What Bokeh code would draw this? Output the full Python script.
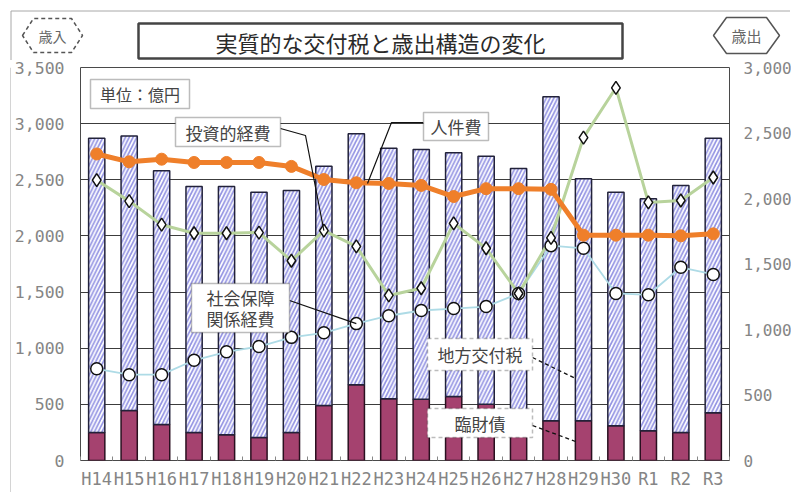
from bokeh.plotting import figure
from bokeh.layouts import column, row
from bokeh.models import (Range1d, LinearAxis, FixedTicker, BoxAnnotation, Label,
                          ColumnDataSource, NumeralTickFormatter)
from bokeh.core.properties import value
from bokeh.embed import file_html
from bokeh.resources import INLINE

# ---------------- data (億円) ----------------
years = ["H14", "H15", "H16", "H17", "H18", "H19", "H20", "H21", "H22", "H23",
         "H24", "H25", "H26", "H27", "H28", "H29", "H30", "R1", "R2", "R3"]
# 歳入 (left axis)
kofuzei = [2620, 2445, 2260, 2190, 2210, 2185, 2155, 2130, 2235, 2230,
           2225, 2170, 2210, 2170, 2885, 2155, 2080, 2065, 2200, 2445]   # 地方交付税
rinzai = [250, 445, 320, 250, 230, 205, 250, 490, 675, 550,
          545, 570, 500, 430, 355, 355, 310, 265, 250, 425]              # 臨財債
# 歳出 (right axis)
personnel = [2340, 2280, 2300, 2275, 2275, 2275, 2245, 2145, 2120, 2115,
             2100, 2015, 2075, 2075, 2070, 1720, 1720, 1720, 1715, 1730]  # 人件費
investment = [2140, 1980, 1800, 1735, 1735, 1740, 1525, 1755, 1635, 1260,
              1315, 1810, 1620, 1275, 1700, 2465, 2845, 1970, 1985, 2160]  # 投資的経費
social = [700, 655, 655, 765, 830, 870, 940, 975, 1045, 1105,
          1145, 1160, 1175, 1275, 1640, 1620, 1275, 1265, 1475, 1420]      # 社会保障関係経費
left_ticks = [0, 500, 1000, 1500, 2000, 2500, 3000, 3500]
right_ticks = [0, 500, 1000, 1500, 2000, 2500, 3000]

LEFT_MAX = 3500
RIGHT_MAX = 3000

n = len(years)
xs = list(range(n))
src = ColumnDataSource(dict(
    x=xs,
    rinzai=rinzai,
    total=[a + b for a, b in zip(rinzai, kofuzei)],
    personnel=personnel, investment=investment, social=social,
))

# ---------------- page layout (pixels) ----------------
TOTAL_W = 790
HEAD_H = 60          # header strip with title and badges
STRIP_W = 11         # thin strip carrying the outer frame's left edge
FR_L, FR_T, FR_W, FR_H = 78, 67, 649, 393   # plot frame on the page
MB_TOP = FR_T - HEAD_H
MB_LEFT = FR_L - STRIP_W
MB_RIGHT = TOTAL_W - FR_L - FR_W
MB_BOTTOM = 32
MAIN_H = MB_TOP + FR_H + MB_BOTTOM
X0, X1 = -0.5, n - 0.5


def dx(px):
    return X0 + (px - FR_L) * (X1 - X0) / FR_W


def dy(py):
    return (FR_T + FR_H - py) * LEFT_MAX / FR_H


def r2l(v):
    return v * LEFT_MAX / RIGHT_MAX


JP = "Noto Sans CJK JP"
MONO = "DejaVu Sans Mono"
TICK_GRAY = "#858585"
BORDER_GRAY = "#a8a8a8"

p = figure(frame_width=FR_W, frame_height=FR_H,
           min_border_left=MB_LEFT, min_border_right=MB_RIGHT,
           min_border_top=MB_TOP, min_border_bottom=MB_BOTTOM,
           x_range=Range1d(X0, X1), y_range=Range1d(0, LEFT_MAX),
           output_backend="svg", toolbar_location=None,
           background_fill_color="white", border_fill_color="white")
p.extra_y_ranges = {"right": Range1d(0, RIGHT_MAX)}

p.outline_line_color = "#4a4a4a"
p.outline_line_width = 1
p.xgrid.visible = False
p.ygrid.grid_line_color = "#3c3c3c"
p.ygrid.grid_line_width = 1

# x axis
xa = p.xaxis[0]
xa.ticker = FixedTicker(ticks=xs, minor_ticks=[i - 0.5 for i in range(n + 1)])
xa.major_label_overrides = {i: y for i, y in enumerate(years)}
xa.major_tick_in = 0
xa.major_tick_out = 0
xa.minor_tick_in = 4
xa.minor_tick_out = 0
xa.minor_tick_line_color = "#888888"
xa.axis_line_color = None
xa.major_label_standoff = 8
xa.major_label_text_font = MONO
xa.major_label_text_font_size = "17px"
xa.major_label_text_color = TICK_GRAY

# left axis
ya = p.yaxis[0]
ya.ticker = FixedTicker(ticks=left_ticks)
ya.formatter = NumeralTickFormatter(format="0,0")
ya.major_tick_in = 0
ya.major_tick_out = 0
ya.minor_tick_line_color = None
ya.axis_line_color = None
ya.major_label_standoff = 16
ya.major_label_text_font = MONO
ya.major_label_text_font_size = "16.5px"
ya.major_label_text_color = TICK_GRAY

# right axis
ra = LinearAxis(y_range_name="right", ticker=FixedTicker(ticks=right_ticks),
                formatter=NumeralTickFormatter(format="0,0"))
ra.major_tick_in = 0
ra.major_tick_out = 0
ra.minor_tick_line_color = None
ra.axis_line_color = None
ra.major_label_standoff = 14
ra.major_label_text_font = MONO
ra.major_label_text_font_size = "16px"
ra.major_label_text_color = TICK_GRAY
p.add_layout(ra, "right")

# ---------------- bars ----------------
p.vbar(x="x", width=0.5, bottom=0, top="rinzai", source=src,
       fill_color="#a5426f", line_color="#2a1020", line_width=1.5)
p.vbar(x="x", width=0.5, bottom="rinzai", top="total", source=src,
       fill_color="white", hatch_pattern="/", hatch_color="#9393e3",
       hatch_weight=1.7, hatch_scale=7.5, line_color="#22223a", line_width=1.5)

# ---------------- lines ----------------
p.line("x", "social", source=src, y_range_name="right", line_color="#aedbe6", line_width=1.8)
p.line("x", "investment", source=src, y_range_name="right", line_color="#b8d39c", line_width=3)
p.line("x", "personnel", source=src, y_range_name="right", line_color="#ef7f2a", line_width=5)

p.scatter("x", "social", source=src, y_range_name="right", marker="circle", size=12,
          fill_color="white", line_color="#111111", line_width=1.5)
p.scatter("x", "investment", source=src, y_range_name="right", marker="diamond", size=13,
          fill_color="white", line_color="#111111", line_width=1.5)
p.scatter("x", "personnel", source=src, y_range_name="right", marker="circle", size=12,
          fill_color="#ef7f2a", line_color="#ef7f2a", line_width=1)

# ---------------- leader lines ----------------
p.line([dx(278), dx(303), 7], [dy(128), dy(135), r2l(investment[7])],
       line_color="#111111", line_width=1.2)
p.line([dx(421), dx(389), dx(365)], [dy(122), dy(122), dy(183)],
       line_color="#111111", line_width=1.2)
p.line([dx(287), 8], [dy(300), r2l(social[8])], line_color="#111111", line_width=1.2)
p.line([dx(530), dx(573)], [dy(357), dy(378)], line_color="#111111", line_width=1.3,
       line_dash="4 3")
p.line([dx(530), dx(573)], [dy(425), dy(441)], line_color="#111111", line_width=1.3,
       line_dash="4 3")


# ---------------- in-plot text boxes ----------------
def box(l, t, r, b, dash="solid", lw=1.5, color="#222222"):
    p.add_layout(BoxAnnotation(left=dx(l), right=dx(r), top=dy(t), bottom=dy(b),
                               fill_color="white", fill_alpha=1,
                               line_color=color, line_width=lw, line_dash=dash,
                               level="annotation"))


def label(cx, cy, txt, size="17px", color="#444444"):
    p.add_layout(Label(x=dx(cx), y=dy(cy), text=txt, text_align="center",
                       text_baseline="middle", text_font=JP,
                       text_font_size=size, text_color=color))


box(88, 79, 187, 108)
label(137.5, 93.5, "単位：億円", size="16px")
box(173, 117, 278, 146)
label(225.5, 131.5, "投資的経費")
box(421, 112, 486, 140)
label(453.5, 126, "人件費")
box(189, 283, 287, 332)
label(238, 297, "社会保障")
label(238, 318, "関係経費")
box(425, 338, 530, 370, dash="4 3")
label(477.5, 354, "地方交付税")
box(425, 408, 530, 437, dash="4 3")
label(477.5, 422.5, "臨財債")

# ---------------- header (title, axis badges, outer frame) ----------------
head = figure(frame_width=TOTAL_W, frame_height=HEAD_H, min_border=0,
              x_range=Range1d(0, TOTAL_W), y_range=Range1d(HEAD_H, 0),
              x_axis_location=None, y_axis_location=None, toolbar_location=None,
              output_backend="svg", outline_line_color=None,
              background_fill_color="white", border_fill_color="white")
head.grid.visible = False

head.line([10.5, 10.5, TOTAL_W + 5], [HEAD_H + 1, 10.5, 10.5], line_color=BORDER_GRAY, line_width=1)
head.quad(left=138, right=622, top=23, bottom=58, fill_color="white",
          line_color="#444444", line_width=2.5)
head.text(x=[380], y=[41], text=["実質的な交付税と歳出構造の変化"], text_align="center",
          text_baseline="middle", text_font=value(JP), text_font_size="22px",
          text_color="#2a2a2a")


def hexagon(cx, cy, hw, hh, inset, dash):
    hx = [cx - hw, cx - hw + inset, cx + hw - inset, cx + hw, cx + hw - inset, cx - hw + inset]
    hy = [cy, cy - hh, cy - hh, cy, cy + hh, cy + hh]
    head.patch(hx, hy, fill_color="white", line_color="#555555", line_width=1.5,
               line_dash=dash)


hexagon(52, 35, 30, 17, 11, "4 3")
head.text(x=[52], y=[35], text=["歳入"], text_align="center", text_baseline="middle",
          text_font=value(JP), text_font_size="14px", text_color="#666666")
hexagon(746, 35, 33, 18, 13, "solid")
head.text(x=[746], y=[35], text=["歳出"], text_align="center", text_baseline="middle",
          text_font=value(JP), text_font_size="15px", text_color="#666666")

strip = figure(frame_width=STRIP_W, frame_height=MAIN_H, min_border=0,
               x_range=Range1d(0, STRIP_W), y_range=Range1d(MAIN_H, 0),
               x_axis_location=None, y_axis_location=None, toolbar_location=None,
               output_backend="svg", outline_line_color=None,
               background_fill_color="white", border_fill_color="white")
strip.grid.visible = False
strip.line([10.5, 10.5], [0, MAIN_H + 5], line_color=BORDER_GRAY, line_width=1)

layout = column(head, row(strip, p, spacing=0), spacing=0)

open("out.html", "w").write(file_html(layout, INLINE))
